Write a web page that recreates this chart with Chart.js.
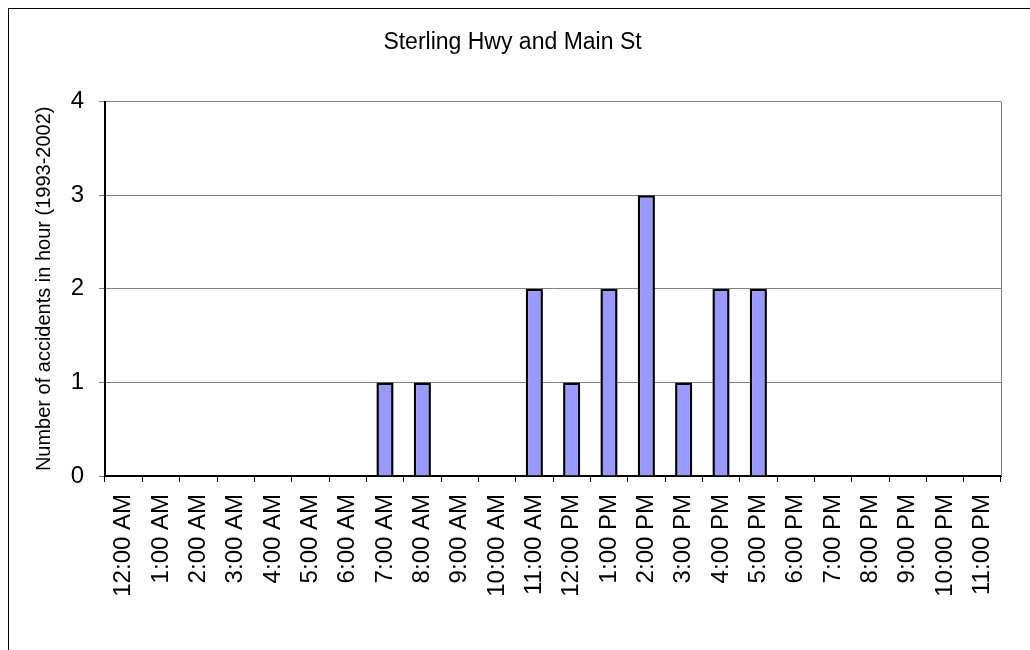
<!DOCTYPE html>
<html>
<head>
<meta charset="utf-8">
<script src="https://cdn.jsdelivr.net/npm/chart.js@4/dist/chart.umd.min.js"></script>
<style>
  html, body { margin: 0; padding: 0; background: #fff; overflow: hidden; }
  #wrap { position: absolute; left: 0; top: 0; width: 1030px; height: 650px; }
  #frame { position: absolute; left: 8px; top: 8px; width: 1100px; height: 700px; border: 1px solid #000; }
</style>
</head>
<body>
<div id="frame"></div>
<div id="wrap"><canvas id="chart" width="1030" height="650"></canvas></div>
<script>
const hours = ['12:00 AM', '1:00 AM', '2:00 AM', '3:00 AM', '4:00 AM', '5:00 AM', '6:00 AM', '7:00 AM',
  '8:00 AM', '9:00 AM', '10:00 AM', '11:00 AM', '12:00 PM', '1:00 PM', '2:00 PM', '3:00 PM',
  '4:00 PM', '5:00 PM', '6:00 PM', '7:00 PM', '8:00 PM', '9:00 PM', '10:00 PM', '11:00 PM'];
const accidents = [0, 0, 0, 0, 0, 0, 0, 1, 1, 0, 0, 2, 1, 2, 3, 1, 2, 2, 0, 0, 0, 0, 0, 0];
const yTicks = [0, 1, 2, 3, 4];

const font = 'Liberation Sans, Arial, sans-serif';

// gray right edge of the plot area
const plotEdge = {
  id: 'plotEdge',
  beforeDatasetsDraw(chart) {
    const a = chart.chartArea;
    const ctx = chart.ctx;
    ctx.save();
    ctx.strokeStyle = '#808080';
    ctx.lineWidth = 1;
    ctx.beginPath();
    ctx.moveTo(Math.round(a.right) + 0.5, a.top);
    ctx.lineTo(Math.round(a.right) + 0.5, a.bottom);
    ctx.stroke();
    ctx.restore();
  }
};

new Chart(document.getElementById('chart').getContext('2d'), {
  type: 'bar',
  data: {
    labels: hours,
    datasets: [{
      data: accidents,
      backgroundColor: '#9999FF',
      borderColor: '#000000',
      borderWidth: 2.5,
      categoryPercentage: 1,
      barPercentage: 0.46
    }]
  },
  options: {
    responsive: false,
    animation: false,
    layout: { padding: { left: 24, right: 29, top: 0, bottom: 0 } },
    plugins: {
      legend: { display: false },
      tooltip: { enabled: false },
      title: {
        display: true,
        text: 'Sterling Hwy and Main St',
        color: '#000',
        font: { family: font, size: 23, weight: 'normal' },
        padding: { top: 29, bottom: 45 }
      }
    },
    scales: {
      x: {
        grid: { drawOnChartArea: false, drawTicks: true, tickLength: 6, color: '#000', offset: true },
        border: { color: '#000', width: 2 },
        ticks: {
          color: '#000', font: { family: font, size: 24 },
          minRotation: 90, maxRotation: 90, autoSkip: false, padding: 12
        },
        afterFit(scale) { scale.height = 650 - 476; }
      },
      y: {
        min: 0, max: 4,
        afterBuildTicks(scale) { scale.ticks = yTicks.map(v => ({ value: v })); },
        grid: { color: '#808080', lineWidth: 1, tickLength: 6 },
        border: { color: '#000', width: 2 },
        ticks: { color: '#000', font: { family: font, size: 24 }, padding: 15 },
        title: {
          display: true,
          text: 'Number of accidents in hour (1993-2002)',
          color: '#000',
          font: { family: font, size: 20 },
          padding: { top: 8, bottom: 0 }
        },
        afterFit(scale) { scale.width = 105 - 24; }
      }
    }
  },
  plugins: [plotEdge]
});
</script>
</body>
</html>
